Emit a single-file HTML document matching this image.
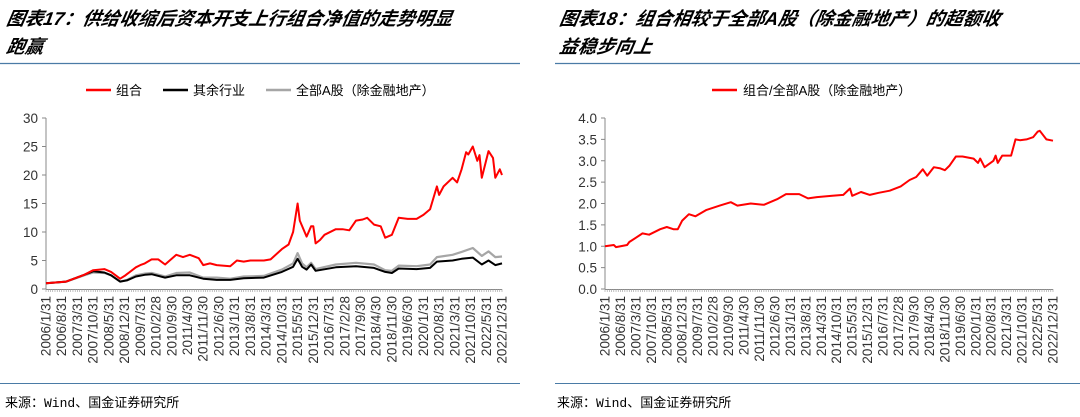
<!DOCTYPE html>
<html><head><meta charset="utf-8">
<style>
body{margin:0;width:1080px;height:417px;background:#fff;overflow:hidden;font-family:"Liberation Sans","Noto Sans CJK SC",sans-serif;}
svg{position:absolute;left:0;top:0}
</style></head>
<body>
<svg id="c" width="1080" height="417">
<g font-family="'Liberation Sans','Noto Sans CJK SC',sans-serif" font-weight="bold" font-style="italic" font-size="18.5" fill="#000">
<text x="6" y="25" transform="skewX(-10) translate(4,0)">图表17：供给收缩后资本开支上行组合净值的走势明显</text>
<text x="6" y="53" transform="skewX(-10) translate(9,0)">跑赢</text>
</g>
<g font-family="'Liberation Sans','Noto Sans CJK SC',sans-serif" font-weight="bold" font-style="italic" font-size="18.5" fill="#000">
<text x="559" y="25" transform="skewX(-10) translate(4,0)">图表18：组合相较于全部A股（除金融地产）的超额收</text>
<text x="559" y="53" transform="skewX(-10) translate(9,0)">益稳步向上</text>
</g>
<line x1="0" y1="63.5" x2="520" y2="63.5" stroke="#4a7ba6" stroke-width="1.2"/>
<line x1="555" y1="63.5" x2="1080" y2="63.5" stroke="#4a7ba6" stroke-width="1.2"/>
<line x1="0" y1="383.5" x2="520" y2="383.5" stroke="#4a7ba6" stroke-width="1"/>
<line x1="555" y1="383.5" x2="1080" y2="383.5" stroke="#4a7ba6" stroke-width="1"/>
<text x="5" y="407" font-size="13" font-family="'Liberation Mono','Noto Sans CJK SC',monospace">来源：Wind、国金证券研究所</text>
<text x="557" y="407" font-size="13" font-family="'Liberation Mono','Noto Sans CJK SC',monospace">来源：Wind、国金证券研究所</text>
<g font-size="13" font-family="'Liberation Sans','Noto Sans CJK SC',sans-serif">
<line x1="86" y1="90" x2="111" y2="90" stroke="#ff0000" stroke-width="2.5"/><text x="116" y="95">组合</text>
<line x1="163" y1="90" x2="188" y2="90" stroke="#000" stroke-width="2.5"/><text x="193" y="95">其余行业</text>
<line x1="266" y1="90" x2="291" y2="90" stroke="#a6a6a6" stroke-width="2.5"/><text x="296" y="95">全部A股（除金融地产）</text>
</g>
<g font-size="13" font-family="'Liberation Sans','Noto Sans CJK SC',sans-serif">
<line x1="712" y1="90" x2="737" y2="90" stroke="#ff0000" stroke-width="2.5"/><text x="743" y="95">组合/全部A股（除金融地产）</text>
</g>
<g id="left"></g>
<g id="right"></g>
</svg>
<script>
const xLabels = ["2006/1/31","2006/8/31","2007/3/31","2007/10/31","2008/5/31","2008/12/31","2009/7/31","2010/2/28","2010/9/30","2011/4/30","2011/11/30","2012/6/30","2013/1/31","2013/8/31","2014/3/31","2014/10/31","2015/5/31","2015/12/31","2016/7/31","2017/2/28","2017/9/30","2018/4/30","2018/11/30","2019/6/30","2020/1/31","2020/8/31","2021/3/31","2021/10/31","2022/5/31","2022/12/31"];
const leftTicks = [0,5,10,15,20,25,30];
const rightTicks = ["0.0","0.5","1.0","1.5","2.0","2.5","3.0","3.5","4.0"];
const portMonths = [0,9,17,21,26,29,33,35,40,42,44,47,50,53,58,61,64,68,70,73,76,82,85,88,91,97,100,105,108,110,112,113,116,118,119,120,122,124,129,132,135,138,141,143,146,149,151,154,157,161,165,168,171,174,175,177,181,183,185,187,188,190,192,193,194,197,199,200,202,203];
const portValues = [1.0,1.3,2.5,3.3,3.5,3.0,1.8,2.3,3.8,4.2,4.5,5.2,5.2,4.3,6.0,5.6,6.0,5.4,4.2,4.5,4.2,4.0,5.0,4.8,5.0,5.0,5.2,7.0,7.8,10,15,12,9.2,11,11,8,8.6,9.5,10.5,10.5,10.3,12,12.2,12.5,11.3,11.0,9,9.5,12.5,12.3,12.3,13,14,18,16.5,18,19.5,18.7,21,24,23.6,25,22.5,23.5,19.5,24.2,23,19.5,21,20];
const mktMonths = [0,9,17,21,26,29,33,36,40,44,47,53,58,64,70,76,82,88,97,105,110,112,114,116,118,120,129,138,146,151,154,157,165,171,174,181,185,190,194,197,200,203];
const allAValues = [1,1.3,2.4,2.9,2.8,2.4,1.3,1.6,2.4,2.7,2.8,2.2,2.8,2.9,2.0,2.0,1.8,2.2,2.3,3.4,4.5,6.3,4.5,3.8,4.6,3.5,4.3,4.6,4.3,3.3,3.2,4.1,4.0,4.3,5.6,6.0,6.5,7.2,5.8,6.6,5.6,5.7];
const otherValues = [1,1.3,2.5,3.1,2.9,2.4,1.3,1.5,2.2,2.5,2.6,2.0,2.4,2.4,1.8,1.6,1.6,1.9,2.0,3.0,3.9,5.3,3.9,3.4,4.3,3.2,3.8,4.0,3.7,3.0,2.8,3.6,3.5,3.7,4.8,5.0,5.3,5.5,4.3,5.0,4.2,4.5];
const ratioMonths = [0,4,5,10,11,17,20,25,28,31,33,35,38,41,46,52,57,60,66,72,78,82,88,92,96,103,108,111,112,116,120,124,129,134,138,141,144,146,149,152,154,156,159,162,167,169,170,172,176,177,178,180,184,186,188,191,194,196,197,200,203];
const ratioValues = [1.0,1.03,0.98,1.03,1.1,1.3,1.27,1.4,1.45,1.4,1.4,1.6,1.75,1.7,1.85,1.95,2.03,1.95,2.0,1.97,2.1,2.22,2.22,2.12,2.15,2.18,2.2,2.35,2.18,2.27,2.2,2.25,2.3,2.4,2.55,2.62,2.8,2.65,2.85,2.82,2.78,2.88,3.1,3.1,3.05,2.95,3.05,2.85,3.0,3.12,2.95,3.12,3.12,3.5,3.48,3.5,3.55,3.68,3.7,3.5,3.47];

const NS="http://www.w3.org/2000/svg";
function mk(p,tag,attrs){const e=document.createElementNS(NS,tag);for(const k in attrs)e.setAttribute(k,attrs[k]);p.appendChild(e);return e;}

function axes(g,x0,x1,y0,y1,ticks,tmax,prefix){
  const ys=v=>y0-(v/tmax)*(y0-y1);
  const ax=mk(g,'line',{x1:x0,y1:y1,x2:x0,y2:y0,stroke:'#888','stroke-width':1});
  
  
  const bx=mk(g,'line',{x1:x0,y1:y0+0.5,x2:x1,y2:y0+0.5,stroke:'#888','stroke-width':1});
  
  
  ticks.forEach(t=>{
    const v=parseFloat(t);
    const tk=mk(g,'line',{x1:x0-4,y1:ys(v),x2:x0,y2:ys(v),stroke:'#888'});
    
    
    const tx=mk(g,'text',{x:x0-8,y:ys(v)+5,'text-anchor':'end','font-size':13.5,fill:'#333'});
    tx.textContent=t;
    
    
  });
  for(let m=0;m<=203;m++){
    const x=x0+(m/203)*(x1-x0);
    const tk=mk(g,'line',{x1:x,y1:y0,x2:x,y2:y0+3,stroke:'#999','stroke-width':0.6});
    
    
  }
  xLabels.forEach((l,i)=>{
    const x=x0+(i*7/203)*(x1-x0)+4.5;
    const tx=mk(g,'text',{x:0,y:0,'text-anchor':'end','font-size':13.5,fill:'#333',transform:`translate(${x},${y0+7}) rotate(-90)`});
    tx.textContent=l;
    
    
  });
  return ys;
}
function line(g,x0,x1,ys,months,vals,color,name,w){
  const d=months.map((m,i)=>(i?'L':'M')+(x0+(m/203)*(x1-x0)).toFixed(1)+','+ys(vals[i]).toFixed(1)).join('');
  const p=mk(g,'path',{d:d,fill:'none',stroke:color,'stroke-width':w,'stroke-linejoin':'round'});
  
  
}
const L=document.getElementById('left');
const lys=axes(L,46,502,289,118,leftTicks.map(String),30,'left');
line(L,46,502,lys,mktMonths,allAValues,'#a6a6a6','all-a-share-line',2.2);
line(L,46,502,lys,mktMonths,otherValues,'#000','other-industries-line',2);
line(L,46,502,lys,portMonths,portValues,'#ff0000','portfolio-line',2);
const R=document.getElementById('right');
const rys=axes(R,605,1053,289,118,rightTicks,4,'right');
line(R,605,1053,rys,ratioMonths,ratioValues,'#ff0000','ratio-line',2);
</script>
</body></html>
